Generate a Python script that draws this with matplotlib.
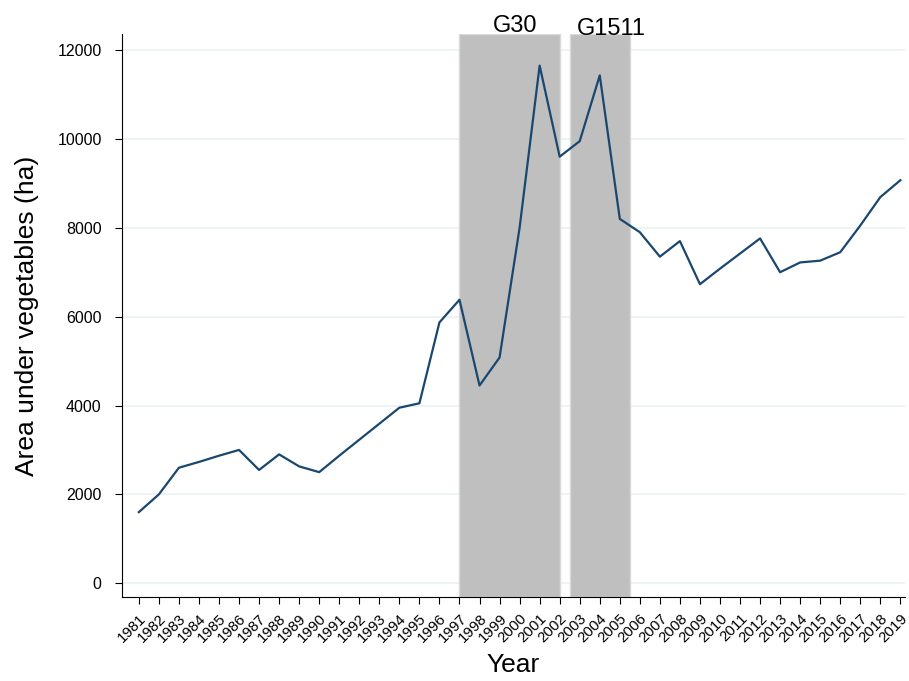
'''
Area under vegetables over time, with the G30 and G1511 periods shaded.
'''

import matplotlib.pyplot as plt
import numpy as np

plt.rcParams['font.family'] = ['Liberation Sans', 'DejaVu Sans']

years = np.arange(1981, 2020)
area = [1600, 2000, 2600, 2730, 2870, 3000, 2550, 2900, 2630, 2500,
        2870, 3230, 3590, 3950, 4050, 5870, 6380, 4450, 5080, 8000,
        11650, 9600, 9950, 11430, 8200, 7900, 7350, 7700, 6730, 7080,
        7420, 7760, 7000, 7220, 7260, 7450, 8050, 8690, 9070]

# shaded periods: (label, start, end, label x, label height in axes units)
periods = [("G30", 1997, 2002, 1999.8, 1.004),
           ("G1511", 2002.5, 2005.5, 2004.6, 0.998)]

fig = plt.figure(figsize=(9.09, 6.81), dpi=100)
ax = fig.add_axes([0.134, 0.123, 0.862, 0.827])

for label, start, end, xl, yl in periods:
    ax.axvspan(start, end, facecolor='#bfbfbf', edgecolor='#d9d9d9',
               linewidth=1, zorder=1)
    ax.text(xl, yl, label, transform=ax.get_xaxis_transform(),
            ha='center', va='baseline', fontsize=17, zorder=4)

ax.plot(years, area, color='#1a476f', linewidth=1.6, zorder=3)

ax.set_xlim(1980.15, 2019.25)
ax.set_ylim(-315, 12360)
ax.set_yticks(np.arange(0, 12001, 2000))
ax.set_xticks(years)
ax.set_xticklabels([str(y) for y in years], rotation=45, ha='right',
                   rotation_mode='anchor', fontsize=10.8)
ax.tick_params(axis='y', labelsize=11.5, length=5, pad=9.5)
ax.tick_params(axis='x', length=5, pad=5)
ax.yaxis.grid(True, color='#eaf2f3', linewidth=1.2, zorder=0)
ax.set_axisbelow(True)
for side in ['top', 'right']:
    ax.spines[side].set_visible(False)

ax.set_xlabel('Year', fontsize=19, labelpad=6)
ax.set_ylabel('Area under vegetables (ha)', fontsize=19, labelpad=13)

fig.savefig('out.png')
